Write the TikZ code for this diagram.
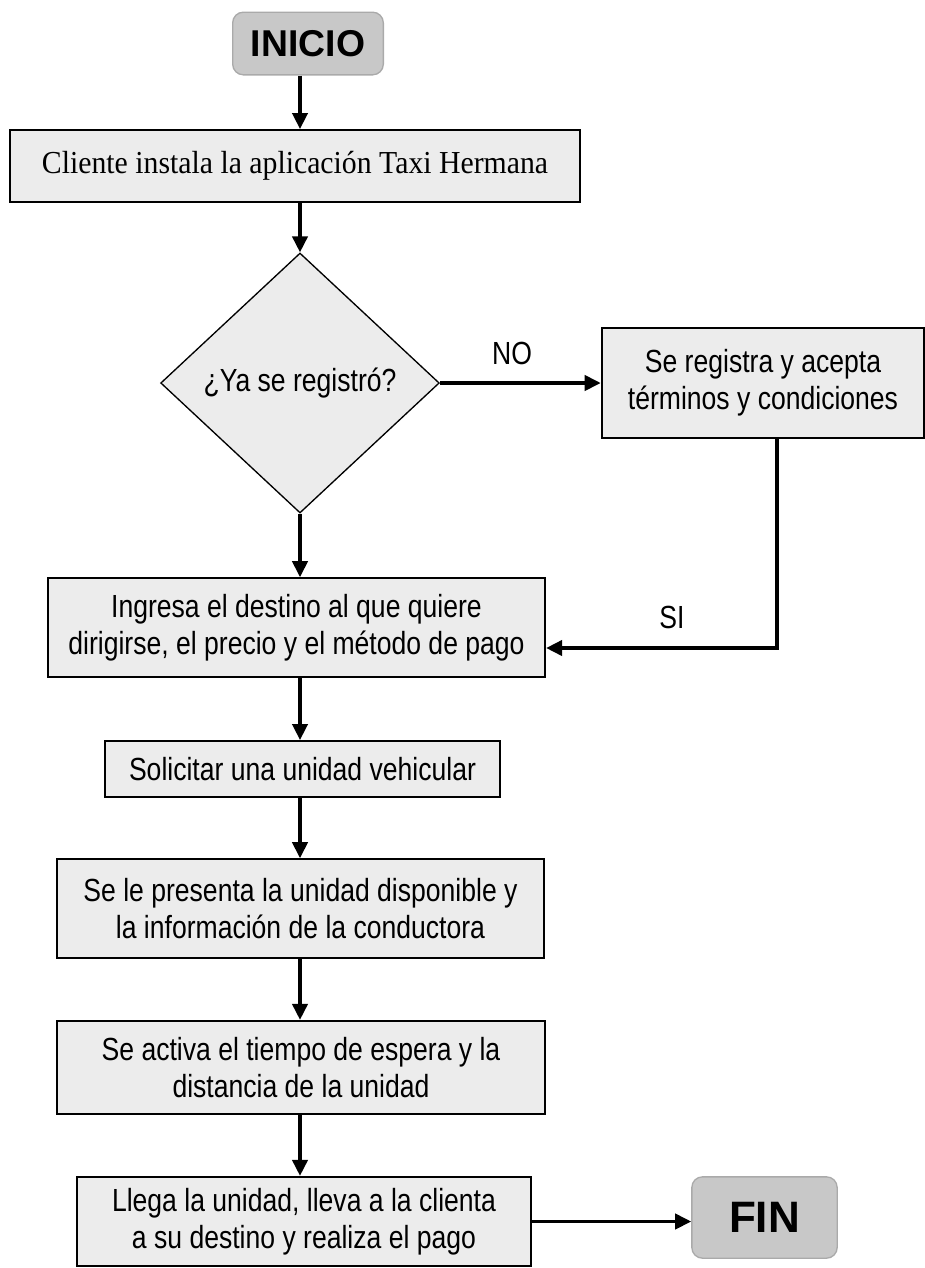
\documentclass[tikz,border=0pt]{standalone}
\usepackage{fontspec}
\usetikzlibrary{shapes.geometric,arrows.meta}
\newfontfamily\sfc[FakeStretch=0.83]{Liberation Sans}
\newfontfamily\serf[FakeStretch=0.93]{Liberation Serif}
\newfontfamily\bsf{Liberation Sans}
\definecolor{boxfill}{RGB}{236,236,236}
\definecolor{termfill}{RGB}{200,200,200}
\definecolor{termline}{RGB}{170,170,170}
\begin{document}
\begin{tikzpicture}[x=0.75pt,y=-0.75pt,
  procbox/.style={draw=black,line width=1.5pt,fill=boxfill,align=center,inner sep=0pt,
    font=\sfc\fontsize{24}{28}\selectfont},
  termbox/.style={draw=termline,line width=1pt,fill=termfill,rounded corners=8pt,inner sep=0pt,
    font=\bsf\bfseries},
  decis/.style={draw=black,line width=1pt,fill=boxfill,shape=diamond,aspect=1.07,inner sep=0pt,
    minimum width=209pt,minimum height=195pt,font=\sfc\fontsize{24}{28}\selectfont},
  arr/.style={line width=2.4pt,-{Triangle[length=12pt,width=11.5pt]}},
  lbl/.style={font=\sfc\fontsize{24}{28}\selectfont,inner sep=0pt}]
\useasboundingbox (0,0) rectangle (925,1268);
\coordinate (col) at (300,0);
\node[termbox,minimum width=113pt,minimum height=47pt,font=\bsf\bfseries\fontsize{28}{32}\selectfont] (inicio) at (308,43.5) {INICIO};
\node[procbox,minimum width=427.5pt,minimum height=54pt,font=\serf\fontsize{24}{28}\selectfont] (box1) at (295,166) {Cliente instala la aplicación Taxi Hermana};
\node[decis] (diam) at (300,383) {¿Ya se registró?};
\node[procbox,minimum width=242pt,minimum height=82.5pt] (rbox) at (763,383) {Se registra y acepta\\términos y condiciones};
\node[procbox,minimum width=373pt,minimum height=74pt] (box2) at (296.5,627.5) {Ingresa el destino al que quiere\\dirigirse, el precio y el método de pago};
\node[procbox,minimum width=296pt,minimum height=42pt] (box3) at (302.5,769) {Solicitar una unidad vehicular};
\node[procbox,minimum width=365pt,minimum height=74pt] (box4) at (300.5,908.5) {Se le presenta la unidad disponible y\\la información de la conductora};
\node[procbox,minimum width=366pt,minimum height=70pt] (box5) at (301,1067.5) {Se activa el tiempo de espera y la\\distancia de la unidad};
\node[procbox,minimum width=340.5pt,minimum height=67pt] (box6) at (304,1221.5) {Llega la unidad, lleva a la clienta\\a su destino y realiza el pago};
\node[termbox,minimum width=109pt,minimum height=61pt,font=\bsf\bfseries\fontsize{33}{36}\selectfont] (fin) at (764.5,1217.5) {FIN};
\node[lbl] (no) at (512,353) {NO};
\node[lbl] (si) at (672,617) {SI};
\coordinate (ret) at (777,648);
\draw[arr] (inicio.south -| col) -- (box1.north -| col);
\draw[arr] (box1.south -| col) -- (diam.north);
\draw[arr] (diam.east) -- (rbox.west |- diam.east);
\draw[arr] (diam.south) -- (box2.north -| diam.south);
\draw[arr] (rbox.south -| ret) -- (ret) -- (box2.east |- ret);
\draw[arr] (box2.south -| col) -- (box3.north -| col);
\draw[arr] (box3.south -| col) -- (box4.north -| col);
\draw[arr] (box4.south -| col) -- (box5.north -| col);
\draw[arr] (box5.south -| col) -- (box6.north -| col);
\draw[arr] (box6.east) -- (fin.west |- box6.east);
\end{tikzpicture}
\end{document}
